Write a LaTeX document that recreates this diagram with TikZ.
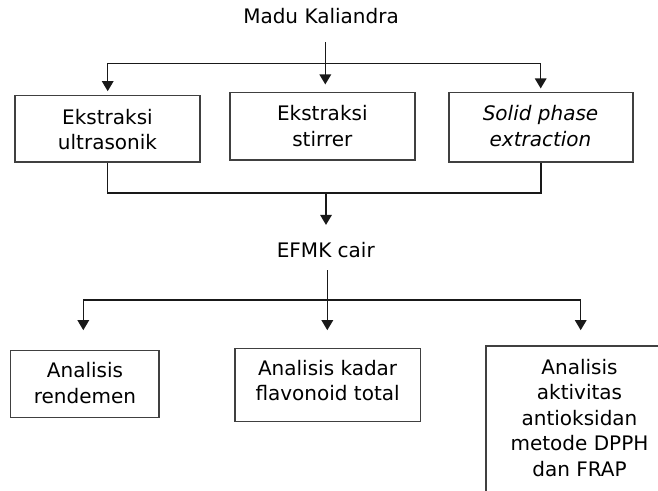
\documentclass[tikz,border=0pt]{standalone}
\usepackage{fontspec}
\setmainfont{DejaVu Sans}
\usetikzlibrary{arrows.meta}
\begin{document}
\begin{tikzpicture}[x=1pt,y=-1pt,
  conn/.style={line width=1.5pt, draw=black!90, line join=miter},
  arr/.style={conn, -{Triangle[length=10pt,width=11.5pt]}},
  box/.style={draw=black!75, line width=1.1pt, inner sep=0pt, rectangle},
  txt/.style={inner sep=0pt, align=center, font=\fontsize{20}{25.5}\selectfont},
]
\useasboundingbox (0,0) rectangle (658,490);

% boxes
\node[box, minimum width=185pt, minimum height=66.3pt] (b1) at (107.5,128.85) {};
\node[box, minimum width=185pt, minimum height=67.7pt] (b2) at (322.5,126.15) {};
\node[box, minimum width=184pt, minimum height=69.7pt] (b3) at (541,127.15) {};
\node[box, minimum width=148.3pt, minimum height=66.6pt] (b4) at (84.85,384) {};
\node[box, minimum width=185.7pt, minimum height=73pt] (b5) at (327.85,384.8) {};
\node[box, minimum width=188pt, minimum height=174pt] (b6) at (580,433) {};

% texts
\node[txt, anchor=base] (m) at (321,23.3) {Madu Kaliandra};
\node[txt] (t1) at (107.5,129.4) {Ekstraksi\\ultrasonik};
\node[txt] (t2) at (322.3,125.9) {Ekstraksi\\stirrer};
\node[txt] (t3) at (540.5,126.25) {\textit{Solid phase}\\\textit{extraction}};
\node[txt, anchor=base] (e) at (325.8,257.3) {EFMK cair};
\node[txt] (t4) at (85,382.9) {Analisis\\rendemen};
\node[txt] (t5) at (327.6,380.75) {Analisis kadar\\flavonoid total};
\node[txt] (t6) at (579.5,417.9) {Analisis\\aktivitas\\antioksidan\\metode DPPH\\dan FRAP};

% upper connectors
\coordinate (s1) at (325.3,42);
\coordinate (l1) at (107.7,63.3);
\coordinate (r1) at (540.7,63.3);
\draw[arr, shorten >=4pt] (r1) -- (l1) -- (l1 |- b1.north);
\draw[arr, shorten >=3.3pt] (l1) -- (r1) -- (r1 |- b3.north);
\draw[arr, shorten >=7.3pt] (s1) -- (s1 |- b2.north);

% merge of first row
\coordinate (j2) at (326,192.3);
\draw[conn] (b1.south) -- ++(0,30.3) -| (b3.south);
\draw[arr, shorten >=17pt] (j2) -- (j2 |- e.north);

% lower connectors
\coordinate (s2) at (327.3,270);
\coordinate (l3) at (83.3,300);
\coordinate (r3) at (580.7,300);
\draw[arr, shorten >=20pt] (r3) -- (l3) -- (l3 |- b4.north);
\draw[arr, shorten >=15.3pt] (l3) -- (r3) -- (r3 |- b6.north);
\draw[arr, shorten >=17.6pt] (s2) -- (s2 |- b5.north);
\end{tikzpicture}
\end{document}
